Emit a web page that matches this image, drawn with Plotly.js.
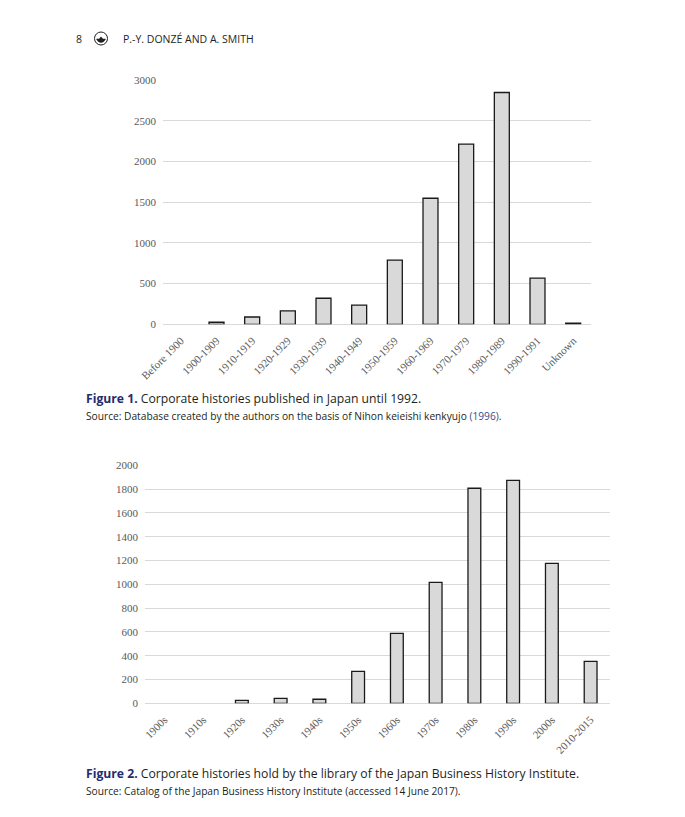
<!DOCTYPE html>
<html>
<head>
<meta charset="utf-8">
<script src="https://cdn.plot.ly/plotly-3.0.1.min.js"></script>
<style>
  html, body { margin: 0; padding: 0; background: #fff; }
  #page { width: 685px; height: 817px; }
</style>
</head>
<body>
<div id="page"></div>
<script>
// Figure 1: corporate histories published in Japan until 1992
const periods_1 = ['Before 1900', '1900-1909', '1910-1919', '1920-1929', '1930-1939', '1940-1949',
    '1950-1959', '1960-1969', '1970-1979', '1980-1989', '1990-1991', 'Unknown'];
const counts_1 = [0, 25, 90, 165, 320, 235, 790, 1550, 2215, 2850, 568, 15];

// Figure 2: corporate histories held by the Japan Business History Institute
const decades_2 = ['1900s', '1910s', '1920s', '1930s', '1940s', '1950s',
    '1960s', '1970s', '1980s', '1990s', '2000s', '2010-2015'];
const counts_2 = [0, 0, 25, 42, 34, 269, 588, 1017, 1807, 1874, 1176, 353];

const W = 685, H = 817;
// page pixels -> paper fractions
const fx = p => p / W;
const fy = p => 1 - p / H;

// empty categories get no outline, like the original
const bar_style = function (vals) {
    return { color: '#d9d9d9', line: { color: '#1a1a1a', width: vals.map(v => v > 0 ? 1.3 : 0) } };
};
const tick_font = { family: 'Liberation Serif, Times New Roman, serif', size: 11, color: '#595959' };
const cap_font = 'Open Sans, Lato, sans-serif';

const trace1 = {
    x: periods_1, y: counts_1, type: 'bar', width: 0.42,
    marker: bar_style(counts_1), xaxis: 'x', yaxis: 'y', hoverinfo: 'skip'
};
const trace2 = {
    x: decades_2, y: counts_2, type: 'bar', width: 0.33,
    marker: bar_style(counts_2), xaxis: 'x2', yaxis: 'y2', hoverinfo: 'skip'
};

const x_common = {
    type: 'category', showgrid: false, showline: false, zeroline: false,
    ticks: '', tickangle: -45, tickfont: tick_font, ticklabelstandoff: 7, fixedrange: true
};
const y_common = {
    showgrid: true, gridcolor: '#d9d9d9', gridwidth: 1,
    zeroline: true, zerolinecolor: '#d9d9d9', zerolinewidth: 1,
    showline: false, ticks: '', tickfont: tick_font, ticklabelstandoff: 6, fixedrange: true
};

// caption sits above the split line, source line hangs below it
const caption = function (y, fig, rest, src, src_link) {
    return [{
        text: '<b>' + fig + '</b> <span style="color:#231f20">' + rest + '</span>',
        x: fx(85), y: fy(y + 8), xref: 'paper', yref: 'paper', xanchor: 'left', yanchor: 'bottom',
        showarrow: false, borderpad: 0, font: { family: cap_font, size: 12.2, color: '#262a6e' }
    }, {
        text: src + (src_link ? '<span style="color:#3a4a8c">' + src_link + '</span>.' : ''),
        x: fx(85), y: fy(y + 8), xref: 'paper', yref: 'paper', xanchor: 'left', yanchor: 'top',
        showarrow: false, borderpad: 0, font: { family: cap_font, size: 10.2, color: '#231f20' }
    }];
};

const annotations = [
    {
        text: '8', x: fx(79), y: fy(39), xref: 'paper', yref: 'paper', xanchor: 'center', yanchor: 'middle',
        showarrow: false, font: { family: cap_font, size: 10.5, color: '#231f20' }
    },
    {
        text: 'P.-Y. DONZÉ AND A. SMITH', x: fx(121), y: fy(39), xref: 'paper', yref: 'paper',
        xanchor: 'left', yanchor: 'middle', showarrow: false,
        font: { family: cap_font, size: 10.5, color: '#231f20' }
    },
    ...caption(400, 'Figure 1.', 'Corporate histories published in Japan until 1992.',
        'Source: Database created by the authors on the basis of Nihon keieishi kenkyujo ', '(1996)'),
    ...caption(775, 'Figure 2.', 'Corporate histories hold by the library of the Japan Business History Institute.',
        'Source: Catalog of the Japan Business History Institute (accessed 14 June 2017).', '')
];

// little lamp logo next to the page number
const shapes = [
    {
        type: 'circle', xref: 'paper', yref: 'paper',
        x0: fx(94.5), x1: fx(107.5), y0: fy(45), y1: fy(32),
        line: { color: '#231f20', width: 1 }, fillcolor: 'rgba(0,0,0,0)'
    },
    {
        type: 'path', xref: 'paper', yref: 'paper',
        path: `M ${fx(96.5)} ${fy(39)} L ${fx(105.5)} ${fy(39)} Q ${fx(104)} ${fy(42.5)} ${fx(101)} ${fy(42.5)} Q ${fx(98)} ${fy(42.5)} ${fx(96.5)} ${fy(39)} Z`,
        fillcolor: '#231f20', line: { color: '#231f20', width: 0.5 }
    },
    {
        type: 'path', xref: 'paper', yref: 'paper',
        path: `M ${fx(99.5)} ${fy(39)} Q ${fx(101)} ${fy(35)} ${fx(102.5)} ${fy(39)} Z`,
        fillcolor: '#231f20', line: { color: '#231f20', width: 0.5 }
    }
];

const layout = {
    width: W, height: H,
    margin: { l: 0, r: 0, t: 0, b: 0 },
    paper_bgcolor: '#ffffff', plot_bgcolor: '#ffffff',
    showlegend: false,
    xaxis: { ...x_common, domain: [fx(163), fx(591)], anchor: 'y' },
    yaxis: { ...y_common, domain: [fy(324.3), fy(80.3)], range: [0, 3000], dtick: 500, anchor: 'x' },
    xaxis2: { ...x_common, domain: [fx(145), fx(610)], anchor: 'y2' },
    yaxis2: { ...y_common, domain: [fy(703.3), fy(465.3)], range: [0, 2000], dtick: 200, anchor: 'x2' },
    annotations: annotations,
    shapes: shapes
};

const config = { staticPlot: true, displayModeBar: false, responsive: false };

Plotly.newPlot('page', [trace1, trace2], layout, config);
</script>
</body>
</html>
